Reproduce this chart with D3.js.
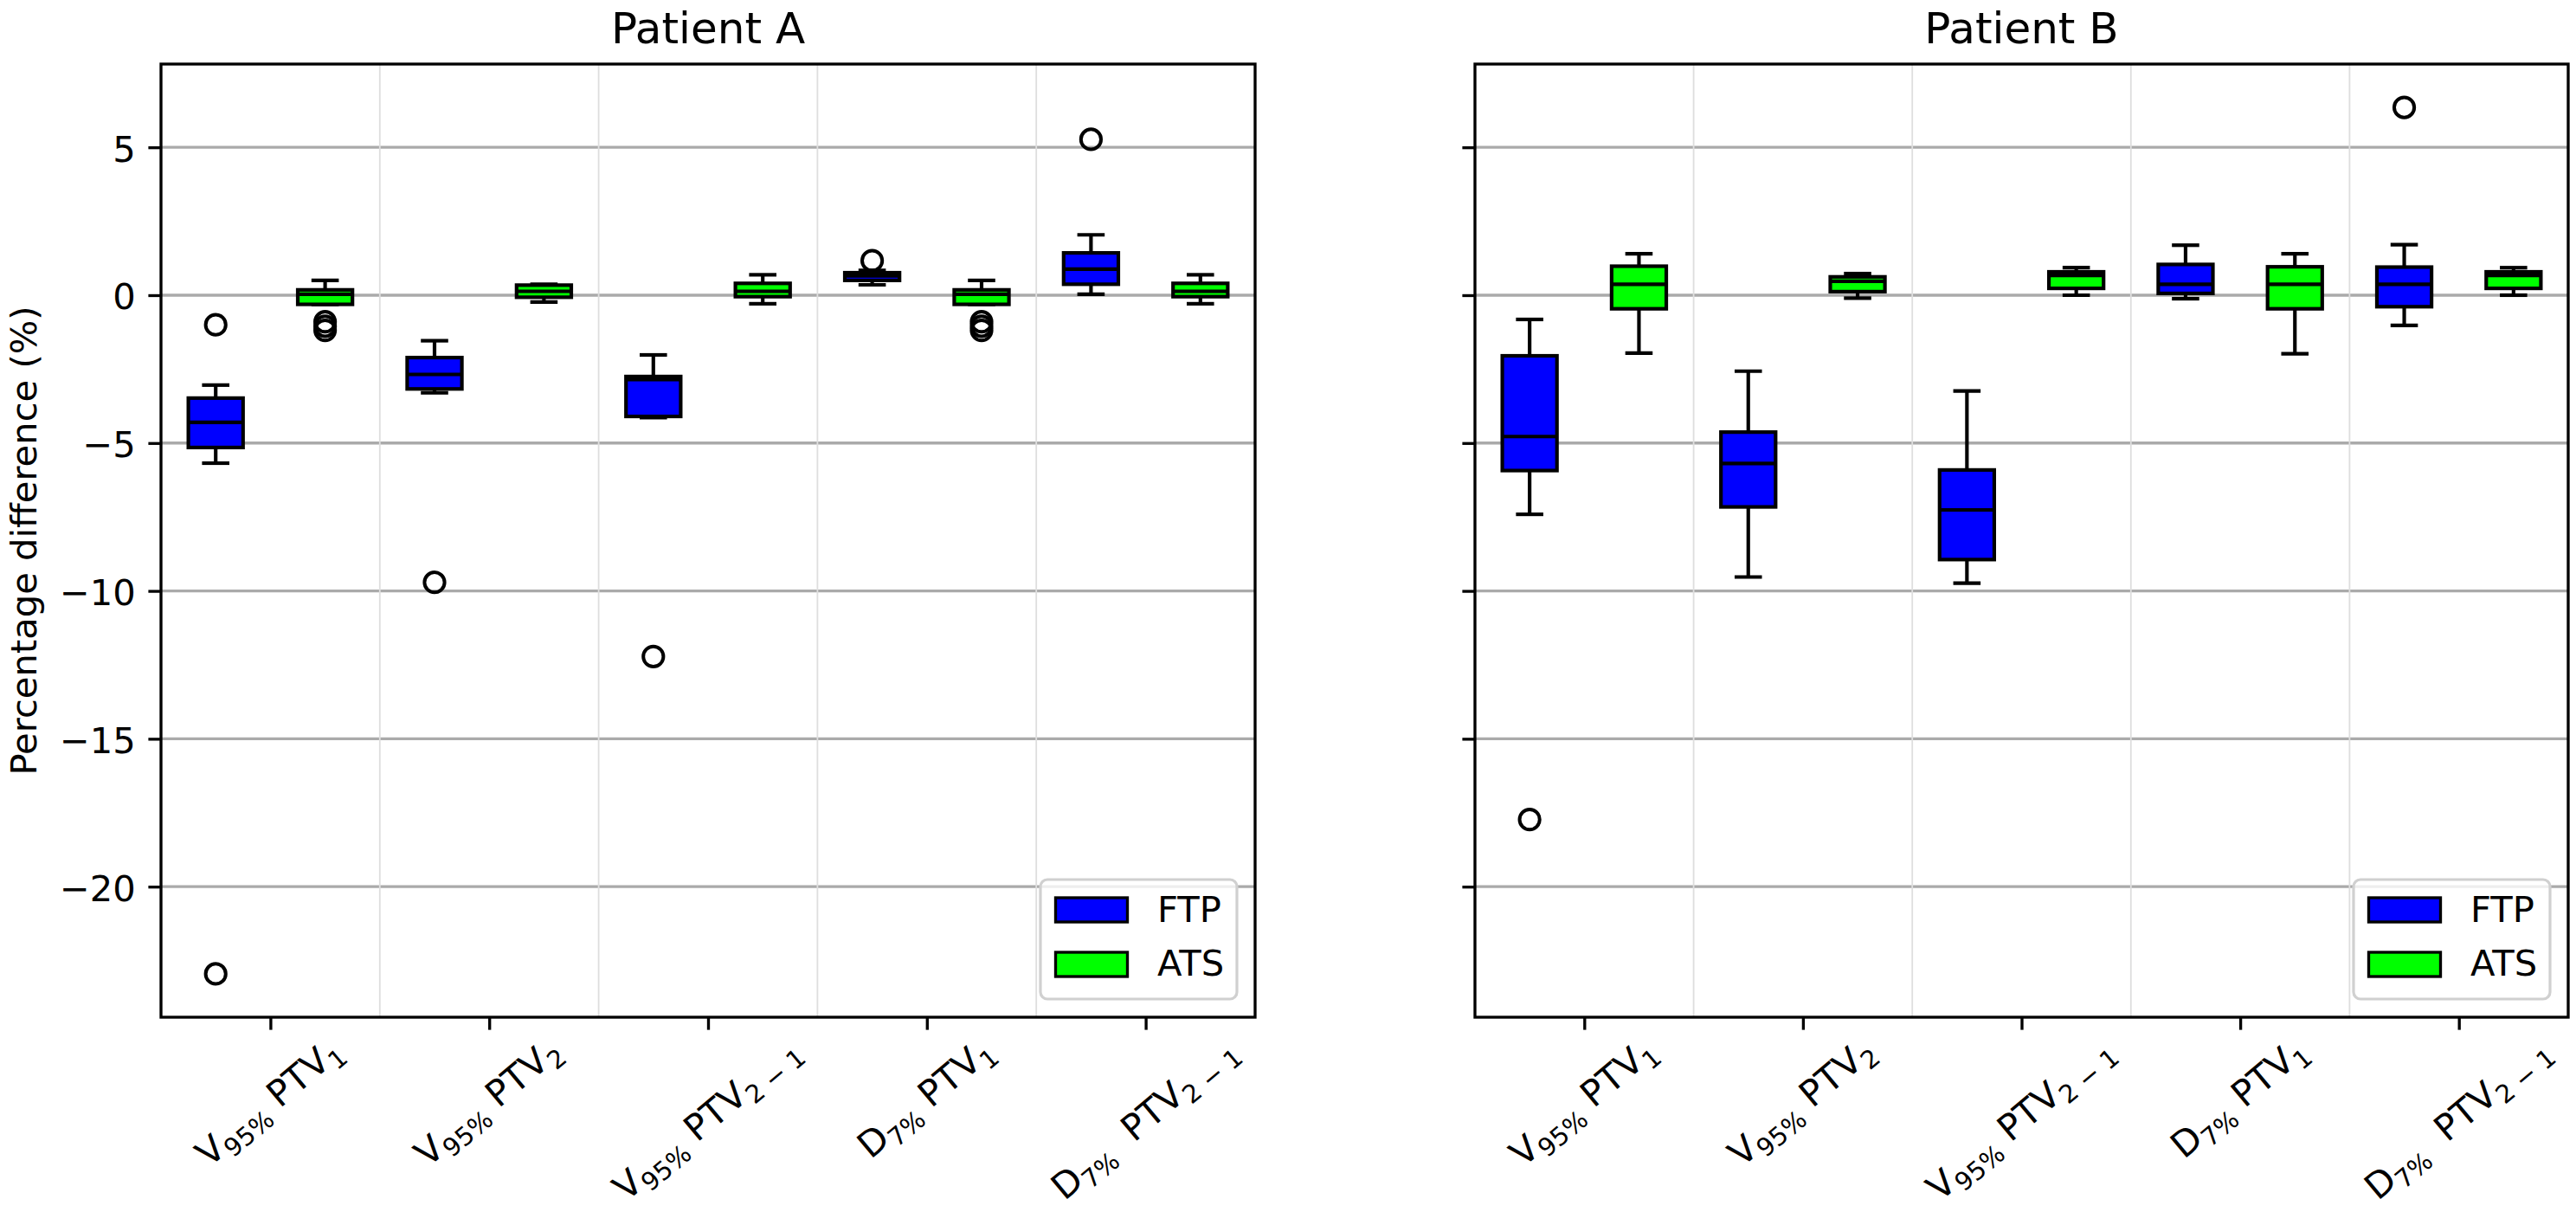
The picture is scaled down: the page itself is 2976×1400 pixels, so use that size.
<!DOCTYPE html>
<html><head><meta charset="utf-8">
<script src="https://cdn.jsdelivr.net/npm/d3@7"></script>
<style>
body{margin:0;background:#fff}
svg{display:block;background:#fff}
text{font-family:'DejaVu Sans',sans-serif;white-space:pre}
</style>
</head><body>
<svg id="chart" width="2976" height="1400"></svg>
<script>
// ---------------- data ----------------
const categories = ["V95% PTV1", "V95% PTV2", "V95% PTV2-1", "D7% PTV1", "D7% PTV2-1"];
const tickLabelParts = [
  [["V", 0], ["95%", 1], [" PTV", 0], ["1", 1]],
  [["V", 0], ["95%", 1], [" PTV", 0], ["2", 1]],
  [["V", 0], ["95%", 1], [" PTV", 0], ["2 \u2212 1", 1]],
  [["D", 0], ["7%", 1], [" PTV", 0], ["1", 1]],
  [["D", 0], ["7%", 1], ["  PTV", 0], ["2 \u2212 1", 1]]
];
const seriesNames = ["FTP", "ATS"];
const seriesColors = ["#0000ff", "#00ff00"];
const panelTitles = ["Patient A", "Patient B"];
const yTickValues = [-20, -15, -10, -5, 0, 5];
const yLabel = "Percentage difference (%)";

// five-number summaries per category: [whisker low, q1, median, q3, whisker high]
const patientA_FTP = [
  [-5.68, -5.15, -4.30, -3.48, -3.04],
  [-3.30, -3.17, -2.68, -2.11, -1.54],
  [-4.14, -4.10, -2.85, -2.75, -2.02],
  [0.35, 0.50, 0.65, 0.76, 0.84],
  [0.03, 0.37, 0.88, 1.43, 2.04]
];
const patientA_FTP_fliers = [[-1.0, -22.95], [-9.71], [-12.22], [1.17], [5.27]];

const patientA_ATS = [
  [-0.31, -0.31, 0.03, 0.18, 0.50],
  [-0.23, -0.07, 0.13, 0.34, 0.37],
  [-0.29, -0.05, 0.13, 0.40, 0.69],
  [-0.31, -0.31, 0.03, 0.18, 0.50],
  [-0.29, -0.05, 0.13, 0.40, 0.69]
];
const patientA_ATS_fliers = [[-0.9, -1.05, -1.19], [], [], [-0.9, -1.05, -1.19], []];

const patientB_FTP = [
  [-7.41, -5.93, -4.78, -2.05, -0.82],
  [-9.53, -7.16, -5.69, -4.63, -2.57],
  [-9.74, -8.94, -7.26, -5.91, -3.24],
  [-0.12, 0.06, 0.37, 1.04, 1.69],
  [-1.02, -0.39, 0.37, 0.95, 1.71]
];
const patientB_FTP_fliers = [[-17.73], [], [], [], [6.35]];

const patientB_ATS = [
  [-1.96, -0.46, 0.37, 0.98, 1.40],
  [-0.10, 0.12, 0.47, 0.62, 0.73],
  [0.00, 0.23, 0.67, 0.79, 0.93],
  [-1.98, -0.46, 0.37, 0.96, 1.40],
  [0.00, 0.23, 0.67, 0.79, 0.93]
];
const patientB_ATS_fliers = [[], [], [], [], []];

// ---------------- layout ----------------
const FS = 41.67;           // 10pt at 300 dpi
const LW = 4.17;            // 1pt
const SPINE = 3.33;         // 0.8pt
const TICK = 14.6;          // 3.5pt
const axTop = 74, axBottom = 1175;
const panelX = [[186, 1450], [1704, 2967]];

const panelData = [
  {title: panelTitles[0], series: [
    {name: seriesNames[0], color: seriesColors[0], stats: patientA_FTP, fliers: patientA_FTP_fliers, off: -0.25},
    {name: seriesNames[1], color: seriesColors[1], stats: patientA_ATS, fliers: patientA_ATS_fliers, off: 0.25}]},
  {title: panelTitles[1], series: [
    {name: seriesNames[0], color: seriesColors[0], stats: patientB_FTP, fliers: patientB_FTP_fliers, off: -0.25},
    {name: seriesNames[1], color: seriesColors[1], stats: patientB_ATS, fliers: patientB_ATS_fliers, off: 0.25}]}
];

// shared y domain from data with 5% margins
let allVals = [];
panelData.forEach(p => p.series.forEach(s => {
  s.stats.forEach(a => allVals.push(...a));
  s.fliers.forEach(a => allVals.push(...a));
}));
const dmin = d3.min(allVals), dmax = d3.max(allVals);
const marg = (dmax - dmin) * 0.05;
const y = d3.scaleLinear().domain([dmin - marg, dmax + marg]).range([axBottom, axTop]);

const svg = d3.select("#chart");

// y label
svg.append("text")
  .attr("transform", `translate(42,${(axTop + axBottom) / 2}) rotate(-90)`)
  .attr("text-anchor", "middle")
  .attr("font-size", FS)
  .text(yLabel);

const BOXW = 0.25;

panelData.forEach((p, pi) => {
  const [L, R] = panelX[pi];
  const x = d3.scaleLinear().domain([0.5, categories.length + 0.5]).range([L, R]);
  const g = svg.append("g");

  // grid: horizontal major
  g.append("g").selectAll("line").data(yTickValues).join("line")
    .attr("x1", L).attr("x2", R)
    .attr("y1", d => y(d)).attr("y2", d => y(d))
    .attr("stroke", "#aaaaaa").attr("stroke-width", SPINE);
  // grid: vertical minor between categories
  const minor = d3.range(1, categories.length).map(i => i + 0.5);
  g.append("g").selectAll("line").data(minor).join("line")
    .attr("y1", axTop).attr("y2", axBottom)
    .attr("x1", d => x(d)).attr("x2", d => x(d))
    .attr("stroke", "#dedede").attr("stroke-width", 1.8);

  // boxes
  p.series.forEach(s => {
    const gs = g.append("g");
    s.stats.forEach((st, ci) => {
      const pos = ci + 1 + s.off;
      const [wl, q1, md, q3, wh] = st;
      const cx = x(pos);
      const bx0 = x(pos - BOXW / 2), bx1 = x(pos + BOXW / 2);
      const cx0 = x(pos - BOXW / 4), cx1 = x(pos + BOXW / 4);
      gs.append("line").attr("x1", cx).attr("x2", cx).attr("y1", y(q1)).attr("y2", y(wl))
        .attr("stroke", "#000").attr("stroke-width", LW);
      gs.append("line").attr("x1", cx).attr("x2", cx).attr("y1", y(q3)).attr("y2", y(wh))
        .attr("stroke", "#000").attr("stroke-width", LW);
      [wl, wh].forEach(v => gs.append("line").attr("x1", cx0).attr("x2", cx1)
        .attr("y1", y(v)).attr("y2", y(v)).attr("stroke", "#000").attr("stroke-width", LW));
      gs.append("rect").attr("x", bx0).attr("width", bx1 - bx0)
        .attr("y", y(q3)).attr("height", Math.max(0, y(q1) - y(q3)))
        .attr("fill", s.color).attr("stroke", "#000").attr("stroke-width", LW);
      gs.append("line").attr("x1", bx0).attr("x2", bx1).attr("y1", y(md)).attr("y2", y(md))
        .attr("stroke", "#000").attr("stroke-width", LW);
      s.fliers[ci].forEach(v => gs.append("circle").attr("cx", cx).attr("cy", y(v)).attr("r", 11.6)
        .attr("fill", "none").attr("stroke", "#000").attr("stroke-width", 4));
    });
  });

  // y axis
  const ya = d3.axisLeft(y).tickValues(yTickValues).tickSize(TICK).tickPadding(TICK)
    .tickFormat(pi === 0 ? d3.format("d") : () => "");
  const yg = g.append("g").attr("transform", `translate(${L},0)`).call(ya);
  yg.select(".domain").remove();
  yg.selectAll(".tick line").attr("stroke", "#000").attr("stroke-width", SPINE);
  yg.selectAll(".tick text").attr("font-size", FS).attr("font-family", "DejaVu Sans")
    .attr("fill", "#000").attr("dy", "0.38em");

  // x axis
  const xa = d3.axisBottom(x).tickValues(d3.range(1, categories.length + 1))
    .tickSize(TICK).tickFormat(() => "");
  const xg = g.append("g").attr("transform", `translate(0,${axBottom})`).call(xa);
  xg.select(".domain").remove();
  xg.selectAll(".tick line").attr("stroke", "#000").attr("stroke-width", SPINE);
  xg.selectAll(".tick text").remove();

  // rotated tick labels
  tickLabelParts.forEach((parts, ci) => {
    const t = g.append("text").attr("font-size", FS).attr("x", 0).attr("y", 0);
    let shifted = false;
    parts.forEach(([str, sub]) => {
      const ts = t.append("tspan").text(str);
      if (sub && !shifted) { ts.attr("font-size", FS * 0.7).attr("dy", FS * 0.22); shifted = true; }
      else if (sub && shifted) { ts.attr("font-size", FS * 0.7); }
      else if (!sub && shifted) { ts.attr("dy", -FS * 0.22); shifted = false; }
    });
    const bb = t.node().getBBox();
    const a = 40 * Math.PI / 180;
    const rotH = bb.width * Math.sin(a) + bb.height * Math.cos(a);
    const tx = x(ci + 1);
    const yc = axBottom + TICK + TICK + rotH / 2 - 16;
    t.attr("transform", `translate(${tx},${yc}) rotate(-40) translate(${-(bb.x + bb.width / 2)},${-(bb.y + bb.height / 2)})`);
  });

  // spines
  g.append("rect").attr("x", L).attr("y", axTop).attr("width", R - L).attr("height", axBottom - axTop)
    .attr("fill", "none").attr("stroke", "#000").attr("stroke-width", SPINE);

  // title
  g.append("text").attr("x", (L + R) / 2).attr("y", 50).attr("text-anchor", "middle")
    .attr("font-size", FS * 1.2).text(p.title);

  // legend
  const lw = 227, lh = 138;
  const lx = R - 21 - lw, ly = axBottom - 21 - lh;
  const lg = g.append("g").attr("transform", `translate(${lx},${ly})`);
  lg.append("rect").attr("width", lw).attr("height", lh).attr("rx", 8).attr("ry", 8)
    .attr("fill", "#fff").attr("fill-opacity", 0.8).attr("stroke", "#d0d0d0").attr("stroke-width", 3.2);
  p.series.forEach((s, si) => {
    lg.append("rect").attr("x", 17.5).attr("y", 21 + si * 63).attr("width", 83).attr("height", 28)
      .attr("fill", s.color).attr("stroke", "#000").attr("stroke-width", SPINE);
    lg.append("text").attr("x", 135).attr("y", 49 + si * 62).attr("font-size", FS).text(s.name);
  });
});
</script>
</body></html>
